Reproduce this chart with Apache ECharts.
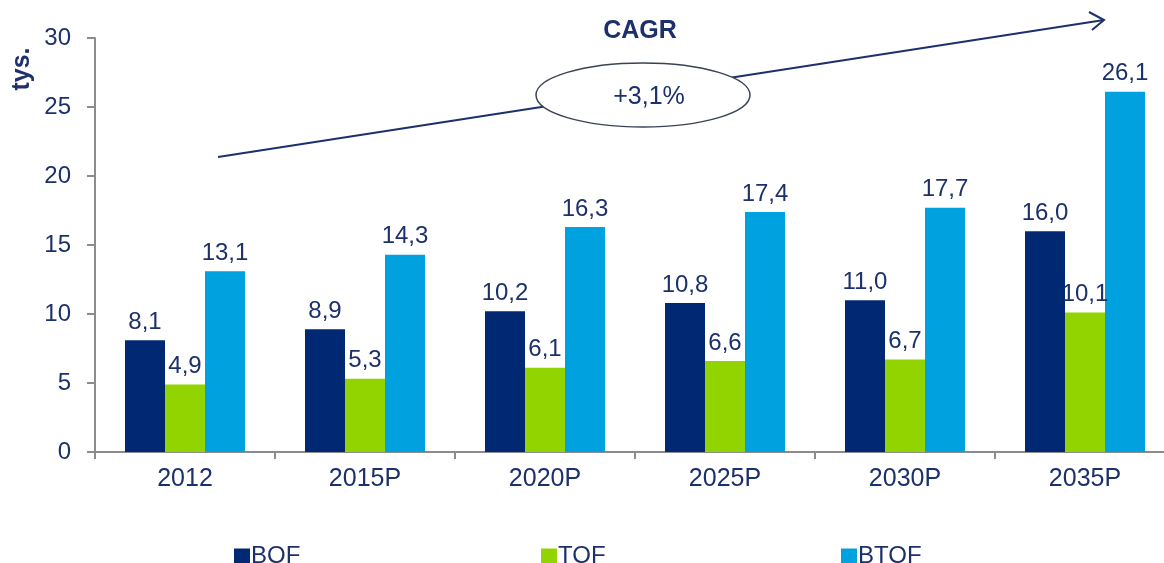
<!DOCTYPE html>
<html>
<head>
<meta charset="utf-8">
<script src="https://cdn.jsdelivr.net/npm/echarts@6/dist/echarts.min.js"></script>
<style>
  html, body { margin: 0; padding: 0; background: #fff; }
  #chart { width: 1164px; height: 563px; }
</style>
</head>
<body>
<div id="chart"></div>
<script>
// data
const years = ["2012", "2015P", "2020P", "2025P", "2030P", "2035P"];
const bof = [8.1, 8.9, 10.2, 10.8, 11.0, 16.0];
const tof = [4.9, 5.3, 6.1, 6.6, 6.7, 10.1];
const btof = [13.1, 14.3, 16.3, 17.4, 17.7, 26.1];
const seriesNames = ["BOF", "TOF", "BTOF"];
const colors = ["#002873", "#92d400", "#00a1df"];

const textColor = "#1c306b";
const font = "Liberation Sans, Arial, sans-serif";

const chart = echarts.init(document.getElementById("chart"));

// value label with comma as decimal separator
const fmt = (p) => p.value.toFixed(1).replace(".", ",");

function makeSeries(name, data, color) {
  return {
    name: name,
    type: "bar",
    data: data,
    barWidth: 40,
    barGap: "0%",
    itemStyle: { color: color },
    label: {
      show: true,
      position: "top",
      distance: 6,
      formatter: fmt,
      color: textColor,
      fontFamily: font,
      fontSize: 24,
    },
  };
}

// one legend block per series so each sits where the picture has it
const legendLefts = [229, 536, 836];
const legends = seriesNames.map((n, i) => ({
  data: [n],
  left: legendLefts[i],
  top: 539,
  icon: "rect",
  itemWidth: 16,
  itemHeight: 15,
  itemGap: 0,
  textStyle: { color: textColor, fontFamily: font, fontSize: 24, padding: [0, 0, 0, -4] },
}));

const option = {
  animation: false,
  backgroundColor: "#fff",
  color: colors,
  legend: legends,
  grid: { left: 95, top: 38, right: -11, height: 414, outerBoundsMode: "none", containLabel: false },
  xAxis: {
    type: "category",
    data: years,
    axisLine: { lineStyle: { color: "#8c8c8c", width: 2 } },
    axisTick: { show: true, length: 7, lineStyle: { color: "#8c8c8c", width: 2 } },
    axisLabel: { color: textColor, fontFamily: font, fontSize: 25, margin: 15 },
  },
  yAxis: {
    type: "value",
    min: 0,
    max: 30,
    interval: 5,
    splitLine: { show: false },
    axisLine: { show: true, lineStyle: { color: "#8c8c8c", width: 2 } },
    axisTick: { show: true, length: 8, lineStyle: { color: "#8c8c8c", width: 2 } },
    axisLabel: { color: textColor, fontFamily: font, fontSize: 24, margin: 24 },
  },
  series: [
    makeSeries(seriesNames[0], bof, colors[0]),
    makeSeries(seriesNames[1], tof, colors[1]),
    makeSeries(seriesNames[2], btof, colors[2]),
  ],
  graphic: [
    // unit label
    {
      type: "text",
      x: 22, y: 69, rotation: Math.PI / 2,
      style: {
        text: "tys.", fill: textColor, font: "bold 25px " + font,
        align: "center", verticalAlign: "middle",
      },
    },
    // CAGR arrow
    {
      type: "line",
      shape: { x1: 218, y1: 157, x2: 1104, y2: 20 },
      style: { stroke: "#1c306b", lineWidth: 2 },
      z: 10,
    },
    {
      type: "polyline",
      shape: { points: [[1089, 12], [1104, 20], [1092, 30]] },
      style: { stroke: "#1c306b", lineWidth: 2, fill: null },
      z: 10,
    },
    {
      type: "ellipse",
      shape: { cx: 643, cy: 95, rx: 107, ry: 32 },
      style: { fill: "#fff", stroke: "#3a4257", lineWidth: 1.5 },
      z: 11,
    },
    {
      type: "text",
      x: 649, y: 97,
      style: {
        text: "+3,1%", fill: textColor, font: "25px " + font,
        align: "center", verticalAlign: "middle",
      },
      z: 12,
    },
    {
      type: "text",
      x: 640, y: 31,
      style: {
        text: "CAGR", fill: textColor, font: "bold 25px " + font,
        align: "center", verticalAlign: "middle",
      },
      z: 12,
    },
  ],
};

chart.setOption(option);
</script>
</body>
</html>
